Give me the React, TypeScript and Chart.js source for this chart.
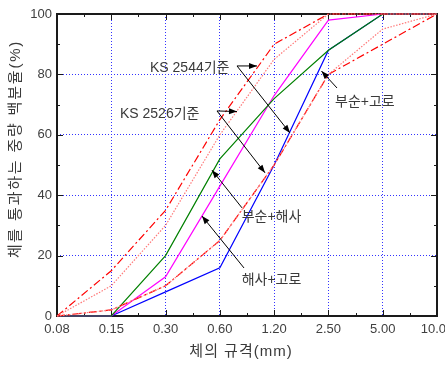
import React, { useEffect, useRef } from "react";
import { Chart, registerables } from "chart.js";

Chart.register(...registerables);

const sieveSizes = ["0.08", "0.15", "0.30", "0.60", "1.20", "2.50", "5.00", "10.00"];
const ks2544Upper = [0, 15, 35, 65, 90, 100, 100, 100];
const ks2544Lower = [0, 2, 10, 25, 50, 80, 90, 100];
const ks2526Upper = [0, 10, 30, 60, 85, 100, 100, 100];
const ks2526Lower = [0, 2, 10, 25, 50, 80, 95, 100];
const crushedSea = [0, 0, 20, 52, 72, 88, 100, 100]; // 부순+해사
const seaSlag = [0, 0, 13, 43, 73, 98, 100, 100]; // 해사+고로
const crushedSlag = [0, 0, 8, 16, 50, 88, 100, 100]; // 부순+고로
const yTicks = [0, 20, 40, 60, 80, 100];

// annotation anchors in data units: [categoryIndex, percent]
const annotations = [
  { text: "KS 2544기준", at: [1.713, 82.1], from: [3.316, 82.8], to: [[3.684, 82.8], [4.292, 60.6]] },
  { text: "KS 2526기준", at: [1.16, 66.9], from: [2.947, 67.9], to: [[3.316, 67.7], [3.832, 47.4]] },
  { text: "부순+고로", at: [5.121, 70.9], from: [5.158, 75.5], to: [[4.872, 81.1]] },
  { text: "부순+해사", at: [3.402, 32.8], from: [3.408, 35.8], to: [[2.855, 48.3]] },
  { text: "해사+고로", at: [3.402, 11.9], from: [3.445, 15.9], to: [[2.671, 33.1]] },
];

const LATIN = '"Liberation Sans", Arial, "Noto Sans CJK KR", sans-serif';
const KFONT = '"Liberation Sans", "Noto Sans CJK KR", sans-serif';

function arrow(ctx: CanvasRenderingContext2D, x1: number, y1: number, x2: number, y2: number) {
  ctx.beginPath();
  ctx.moveTo(x1, y1);
  ctx.lineTo(x2, y2);
  ctx.stroke();
  const a = Math.atan2(y2 - y1, x2 - x1);
  const L = 8, W = 3;
  ctx.beginPath();
  ctx.moveTo(x2, y2);
  ctx.lineTo(x2 - L * Math.cos(a) + W * Math.sin(a), y2 - L * Math.sin(a) - W * Math.cos(a));
  ctx.lineTo(x2 - L * Math.cos(a) - W * Math.sin(a), y2 - L * Math.sin(a) + W * Math.cos(a));
  ctx.closePath();
  ctx.fill();
}

const framePlugin = {
  id: "frame",
  beforeDatasetsDraw(chart: any) {
    const { ctx, chartArea, scales } = chart;
    const { left, right, top, bottom } = chartArea;
    const x = scales.x, y = scales.y;
    ctx.save();
    ctx.strokeStyle = "#1a1a1a";
    ctx.lineWidth = 2;
    ctx.strokeRect(left, top, right - left, bottom - top);
    ctx.lineWidth = 1;
    ctx.beginPath();
    for (let i = 0; i < sieveSizes.length; i++) {
      const px = Math.round(x.getPixelForValue(i)) + 0.5;
      ctx.moveTo(px, bottom); ctx.lineTo(px, bottom - 6);
      ctx.moveTo(px, top); ctx.lineTo(px, top + 6);
      if (i < sieveSizes.length - 1) {
        const mx = Math.round(x.getPixelForValue(i + 0.5)) + 0.5;
        ctx.moveTo(mx, bottom); ctx.lineTo(mx, bottom - 3);
        ctx.moveTo(mx, top); ctx.lineTo(mx, top + 3);
      }
    }
    for (let v = 0; v <= 100; v += 10) {
      const py = Math.round(y.getPixelForValue(v)) + 0.5;
      const len = v % 20 === 0 ? 6 : 3;
      ctx.moveTo(left, py); ctx.lineTo(left + len, py);
      ctx.moveTo(right, py); ctx.lineTo(right - len, py);
    }
    ctx.stroke();
    ctx.restore();
  },
  afterDraw(chart: any) {
    const { ctx, scales } = chart;
    const x = scales.x, y = scales.y;
    ctx.save();
    ctx.fillStyle = "#3a3a3a";
    ctx.textBaseline = "middle";
    // axis titles
    ctx.font = `15px ${KFONT}`;
    ctx.textAlign = "center";
    (ctx as any).letterSpacing = "1px";
    ctx.fillText("체의 규격(mm)", 241, 352);
    ctx.translate(16, 149);
    ctx.rotate(-Math.PI / 2);
    (ctx as any).letterSpacing = "1.8px";
    ctx.fillText("체를 통과하는 중량 백분율(%)", 0, 0);
    ctx.setTransform(1, 0, 0, 1, 0, 0);
    (ctx as any).letterSpacing = "0px";
    // annotations
    ctx.font = `14px ${KFONT}`;
    ctx.textAlign = "left";
    ctx.strokeStyle = "#000";
    ctx.fillStyle = "#000";
    ctx.lineWidth = 1;
    for (const a of annotations) {
      const fx = x.getPixelForValue(a.from[0]);
      const fy = y.getPixelForValue(a.from[1]);
      for (const t of a.to) {
        arrow(ctx, fx, fy, x.getPixelForValue(t[0]), y.getPixelForValue(t[1]));
      }
    }
    ctx.fillStyle = "#3a3a3a";
    for (const a of annotations) {
      ctx.fillText(a.text, x.getPixelForValue(a.at[0]), y.getPixelForValue(a.at[1]));
    }
    ctx.restore();
  },
};

export default function App() {
  const ref = useRef<HTMLCanvasElement>(null);
  useEffect(() => {
    const canvas = ref.current!;
    const mk = (label: string, data: number[], color: string, dash: number[]) => ({
      label, data, borderColor: color, backgroundColor: color, borderDash: dash,
      borderWidth: 1.2, pointRadius: 0, tension: 0, fill: false, clip: false,
    });
    const chart = new Chart(canvas, {
      type: "line",
      data: {
        labels: sieveSizes,
        datasets: [
          mk("KS 2526 상한", ks2526Upper, "#ff7a7a", [1.5, 1.5]),
          mk("KS 2526 하한", ks2526Lower, "#ff7a7a", [1.5, 1.5]),
          mk("KS 2544 상한", ks2544Upper, "#ff0000", [8, 3, 2, 3]),
          mk("KS 2544 하한", ks2544Lower, "#ff0000", [8, 3, 2, 3]),
          mk("부순+해사", crushedSea, "#008000", []),
          mk("해사+고로", seaSlag, "#ff00ff", []),
          mk("부순+고로", crushedSlag, "#0000ff", []),
        ],
      },
      options: {
        responsive: false,
        animation: false,
        layout: { padding: { top: 14, right: 8, left: 0, bottom: 0 } },
        plugins: { legend: { display: false }, tooltip: { enabled: false } },
        scales: {
          x: {
            type: "category",
            offset: false,
            grid: { color: "#3333ff", lineWidth: 1, drawTicks: false },
            border: { display: false, dash: [1, 2] },
            ticks: { color: "#404040", font: { family: LATIN, size: 13 }, padding: 6, maxRotation: 0, autoSkip: false },
            afterFit: (s: any) => { s.height = 51; s.paddingLeft = 0; s.paddingRight = 0; },
          },
          y: {
            min: 0, max: 100,
            afterBuildTicks: (s: any) => { s.ticks = yTicks.map((v) => ({ value: v })); },
            grid: { color: "#3333ff", lineWidth: 1, drawTicks: false },
            border: { display: false, dash: [1, 2] },
            ticks: { color: "#404040", font: { family: LATIN, size: 13 }, padding: 5 },
            afterFit: (s: any) => { s.width = 57; s.paddingTop = 0; s.paddingBottom = 0; },
          },
        },
      },
      plugins: [framePlugin],
    });
    return () => chart.destroy();
  }, []);
  return (
    <div style={{ position: "absolute", left: 0, top: 0, width: 445, height: 367, background: "#fff" }}>
      <canvas ref={ref} width={445} height={367} />
    </div>
  );
}
